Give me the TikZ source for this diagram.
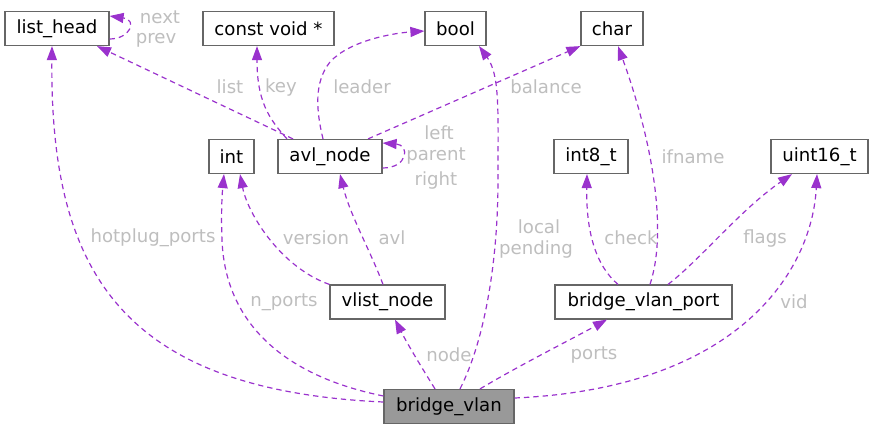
\documentclass[tikz,border=0pt]{standalone}
\usepackage{fontspec}
\setmainfont{DejaVu Sans}
\usetikzlibrary{arrows.meta}
\definecolor{edgecol}{HTML}{9A32CD}
\definecolor{labcol}{HTML}{BEBEBE}
\definecolor{boxcol}{HTML}{666666}
\definecolor{rootfill}{HTML}{999999}
\begin{document}
\begin{tikzpicture}[x=0.75pt,y=-0.75pt,
  font=\fontsize{13.6}{16}\selectfont,
  box/.style={draw=boxcol, line width=0.9pt, fill=white, minimum height=25.5pt, inner sep=0pt, text=black},
  root/.style={box, fill=rootfill},
  edge/.style={draw=edgecol, line width=0.9pt, dash pattern=on 4pt off 3pt, -{Triangle[length=10.5pt,width=7.5pt]}},
  lab/.style={text=labcol, inner sep=0pt}]
\useasboundingbox (0,0) rectangle (874,429);
% nodes
\node[box, minimum width=78pt] (lh) at (57,28.5) {list\_head};
\node[box, minimum width=98.25pt] (cv) at (268.5,28.5) {const void *};
\node[box, minimum width=45.75pt] (bool) at (455.5,28.5) {bool};
\node[box, minimum width=46.5pt] (ch) at (612,28.5) {char};
\node[box, minimum width=33.75pt] (int) at (231.5,156.5) {int};
\node[box, minimum width=78pt] (avl) at (330,156.5) {avl\_node};
\node[box, minimum width=55.5pt] (int8) at (591,156.5) {int8\_t};
\node[box, minimum width=72.75pt] (u16) at (819.5,156.5) {uint16\_t};
\node[box, minimum width=86.25pt] (vl) at (387.5,302) {vlist\_node};
\node[box, minimum width=132.75pt] (bvp) at (643.5,302) {bridge\_vlan\_port};
\node[root, minimum width=97.5pt] (bv) at (449,406.5) {bridge\_vlan};
% edges
\draw[edge] (lh.east |- 0,39) .. controls (130,39) and (138,20) .. (lh.east |- 0,16);
\draw[edge] (avl.north -| 293,0) -- (lh.south -| 97,0);
\draw[edge] (avl.north -| 287,0) .. controls (268,118) and (257,100) .. (cv.south -| 257,0);
\draw[edge] (avl.north -| 323,0) .. controls (316,110) and (314,82) .. (330,62) .. controls (350,40) and (395,33) .. (bool.west |- 0,31);
\draw[edge] (avl.north -| 368,0) -- (ch.south west);
\draw[edge] (avl.east |- 0,168) .. controls (408,168) and (410,145) .. (avl.east |- 0,143);
\draw[edge] (vl.north west) .. controls (282,268) and (248,215) .. (int.south -| 240,0);
\draw[edge] (vl.north -| 383,0) .. controls (370,250) and (350,215) .. (avl.south -| 340,0);
\draw[edge] (bv.north -| 460,0) .. controls (485,340) and (498,260) .. (498,180) .. controls (498,110) and (500,75) .. (bool.south -| 479,0);
\draw[edge] (bv.north -| 435,0) .. controls (422,368) and (408,345) .. (vl.south -| 395,0);
\draw[edge] (bv.north -| 480,0) .. controls (520,365) and (570,340) .. (bvp.south -| 607,0);
\draw[edge] (bv.east |- 0,398) .. controls (740,388) and (812,270) .. (u16.south -| 817,0);
\draw[edge] (bv.west |- 0,402) .. controls (120,390) and (50,270) .. (lh.south -| 52,0);
\draw[edge] (bv.west |- 0,396) .. controls (280,375) and (225,320) .. (222,240) .. controls (221,215) and (222,195) .. (int.south -| 224,0);
\draw[edge] (bvp.north -| 618,0) .. controls (595,265) and (586,230) .. (int8.south -| 587,0);
\draw[edge] (bvp.north -| 650,0) .. controls (668,230) and (652,140) .. (ch.south -| 618,0);
\draw[edge] (bvp.north -| 668,0) .. controls (700,260) and (740,210) .. (u16.south -| 792,0);
% labels
\node[lab] (lnext) at (160,17) {next};
\node[lab] (lprev) at (156,40) {prev};
\node[lab] (llist) at (230,87) {list};
\node[lab] (lkey) at (281,87) {key};
\node[lab] (llead) at (362,87) {leader};
\node[lab] (lbal) at (546,87) {balance};
\node[lab] (lleft) at (439,133) {left};
\node[lab] (lpar) at (436,156) {parent};
\node[lab] (lright) at (436,180) {right};
\node[lab] (lifn) at (693,157) {ifname};
\node[lab] (lhot) at (153,238) {hotplug\_ports};
\node[lab] (lver) at (316,238) {version};
\node[lab] (lavl) at (392,238) {avl};
\node[lab] (lloc) at (539,227) {local};
\node[lab] (lpend) at (536,249) {pending};
\node[lab] (lchk) at (631,238) {check};
\node[lab] (lflg) at (765,238) {flags};
\node[lab] (lnp) at (284,302) {n\_ports};
\node[lab] (lvid) at (794,302) {vid};
\node[lab] (lnode) at (449,355) {node};
\node[lab] (lports) at (594,355) {ports};
\end{tikzpicture}
\end{document}
